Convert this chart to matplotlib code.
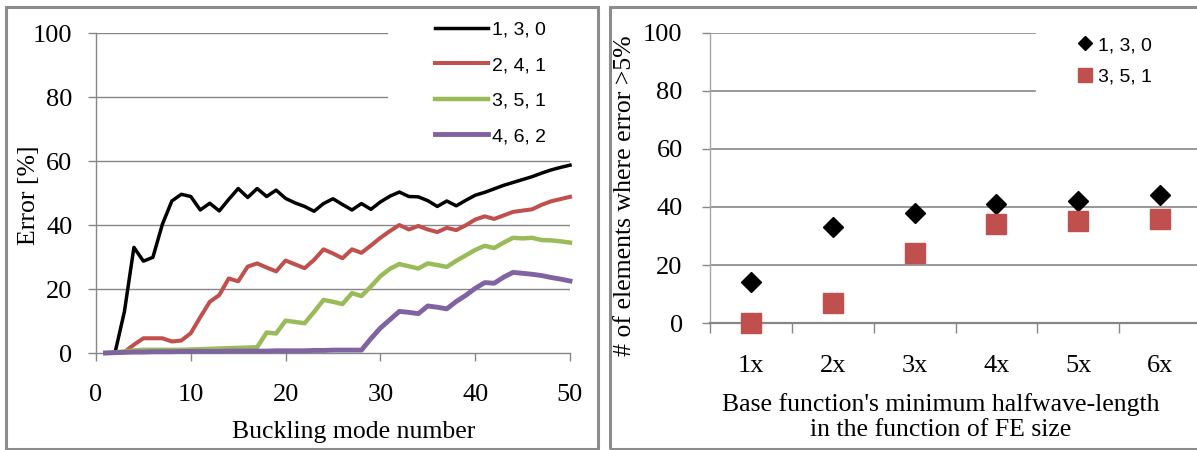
import numpy as np
import matplotlib
matplotlib.use("Agg")
import matplotlib.pyplot as plt
from matplotlib.patches import Rectangle

# ---------------- data ----------------
modes = list(range(1, 51))
s130 = [0, 0, 13, 33, 28.7, 29.9, 40.2, 47.5, 49.6, 48.9, 44.7, 46.8, 44.4, 48, 51.4, 48.6, 51.4, 48.9, 50.9, 48.3,
        46.9, 45.8, 44.3, 46.7, 48.2, 46.4, 44.7, 46.7, 44.9, 47.2, 49, 50.3, 48.9, 48.8, 47.6, 45.8, 47.5, 46, 47.7, 49.3,
        50.2, 51.3, 52.4, 53.3, 54.2, 55.1, 56.2, 57.2, 58, 58.7]
s241 = [0, 0, 0.3, 2.6, 4.6, 4.6, 4.6, 3.6, 3.9, 6.2, 11.2, 16, 18.1, 23.3, 22.4, 27, 28, 26.7, 25.5, 28.9,
        27.7, 26.5, 29.1, 32.4, 31.1, 29.6, 32.4, 31.3, 33.6, 36, 38.1, 40, 38.6, 39.7, 38.6, 37.8, 39.1, 38.4, 39.9, 41.7,
        42.7, 41.9, 43, 44.1, 44.5, 44.9, 46.3, 47.4, 48.1, 48.8]
s351 = [0, 0.2, 0.5, 0.8, 1, 1, 1, 1, 1, 1.1, 1.2, 1.3, 1.4, 1.5, 1.6, 1.7, 1.8, 6.4, 6.1, 10.1,
        9.7, 9.3, 12.8, 16.6, 16.0, 15.3, 18.7, 17.8, 20.8, 24, 26.3, 27.8, 27.1, 26.4, 28, 27.5, 26.9, 28.8, 30.5, 32.2,
        33.5, 32.8, 34.5, 36, 35.8, 36, 35.3, 35.2, 34.9, 34.5]
s462 = [0, 0.1, 0.2, 0.3, 0.3, 0.4, 0.4, 0.4, 0.5, 0.5, 0.5, 0.5, 0.5, 0.6, 0.6, 0.6, 0.6, 0.6, 0.7, 0.7,
        0.7, 0.7, 0.8, 0.8, 0.9, 0.9, 0.9, 0.9, 4.5, 7.8, 10.4, 13, 12.7, 12.3, 14.7, 14.3, 13.8, 16.1, 18, 20.2,
        22, 21.8, 23.7, 25.2, 24.9, 24.6, 24.2, 23.6, 23.1, 22.5]
line_labels = ["1, 3, 0", "2, 4, 1", "3, 5, 1", "4, 6, 2"]

categories = ["1x", "2x", "3x", "4x", "5x", "6x"]
count_130 = [14, 33, 38, 41, 42, 44]
count_351 = [0, 7, 24, 34, 35, 36]
scatter_labels = ["1, 3, 0", "3, 5, 1"]

left_xticks = [0, 10, 20, 30, 40, 50]
yticks = [0, 20, 40, 60, 80, 100]

# ---------------- style ----------------
plt.rcParams['font.family'] = ['Liberation Serif', 'DejaVu Serif']
GRAY = '#868686'
W, H = 1197, 450

fig = plt.figure(figsize=(W / 100, H / 100), dpi=100)
fig.patch.set_facecolor('white')

def axrect(x0, ytop, x1, ybot):
    return [x0 / W, 1 - ybot / H, (x1 - x0) / W, (ybot - ytop) / H]

# ---------------- left chart ----------------
ax1 = fig.add_axes(axrect(96, 33, 570, 353))
colors = ['#000000', '#C0504D', '#9BBB59', '#8064A2']
widths = [2.5, 2.9, 3.2, 3.5]
for vals, c, lw, lab in zip([s130, s241, s351, s462], colors, widths, line_labels):
    ax1.plot(modes, vals, color=c, lw=lw, label=lab, clip_on=False, zorder=3,
             solid_joinstyle='round')
ax1.set_xlim(0, 50)
ax1.set_ylim(0, 100)
ax1.set_xticks(left_xticks)
ax1.set_yticks(yticks)
for y in yticks[1:]:
    ax1.axhline(y, xmin=0, xmax=(387 - 96) / 474 if y >= 80 else 1, color=GRAY, lw=1.0, zorder=1)
for sp in ['top', 'right']:
    ax1.spines[sp].set_visible(False)
for sp in ['left', 'bottom']:
    ax1.spines[sp].set_color(GRAY)
    ax1.spines[sp].set_linewidth(1.0)
ax1.tick_params(axis='y', direction='out', length=5.5, width=1, color=GRAY, pad=11.5, labelsize=19)
ax1.tick_params(axis='x', direction='out', length=6, width=1, color=GRAY, pad=16.5, labelsize=19)
ax1.set_ylabel('Error [%]', fontsize=18.5, va='center')
ax1.yaxis.set_label_coords((29 - 96) / 474, (353 - 195) / 320)
ax1.set_xlabel('Buckling mode number', fontsize=18.5, va='center')
ax1.xaxis.set_label_coords((354 - 96) / 474, (353 - 432) / 320)
ax1.legend(loc='center left', bbox_to_anchor=(435 / W, 1 - 83 / H), bbox_transform=fig.transFigure,
           frameon=False, prop={'family': 'Liberation Sans', 'size': 14}, handlelength=2.75,
           handletextpad=0.2, labelspacing=0.92, borderpad=0, borderaxespad=0)

# ---------------- right chart ----------------
ax2 = fig.add_axes(axrect(710, 33, 1201, 323))
pos = np.arange(1, len(categories) + 1)
ax2.plot(pos, count_130, linestyle='none', marker='D', ms=9.7, color='black', label=scatter_labels[0],
         clip_on=False, zorder=4)
ax2.plot(pos, count_351, linestyle='none', marker='s', ms=14.4, color='#C0504D', label=scatter_labels[1],
         clip_on=False, zorder=4)
ax2.set_xlim(0.5, len(categories) + 0.5)
ax2.set_ylim(0, 100)
ax2.set_yticks(yticks)
ax2.set_xticks(np.arange(0.5, len(categories) + 1))
ax2.set_xticklabels([])
ax2.set_xticks(pos, minor=True)
ax2.set_xticklabels(categories, minor=True)
for y in yticks[1:]:
    ax2.axhline(y, xmin=0, xmax=(1035 - 710) / 491 if y >= 80 else 1, color=GRAY, lw=1.2, zorder=1)
for sp in ['top', 'right']:
    ax2.spines[sp].set_visible(False)
ax2.spines['left'].set_color('#a6a6a6')
ax2.spines['left'].set_linewidth(1.0)
ax2.spines['bottom'].set_color(GRAY)
ax2.spines['bottom'].set_linewidth(1.6)
ax2.tick_params(axis='y', direction='out', length=6, width=1, color=GRAY, pad=13.7, labelsize=19)
ax2.tick_params(axis='x', which='major', direction='out', length=7, width=1, color=GRAY)
ax2.tick_params(axis='x', which='minor', length=0, pad=23, labelsize=19)
ax2.set_ylabel('# of elements where error >5%', fontsize=18.5, va='center')
ax2.yaxis.set_label_coords((625 - 710) / 491, (323 - 196) / 290)
ax2.set_xlabel("Base function's minimum halfwave-length\nin the function of FE size", fontsize=18.5,
               va='center', linespacing=1.17)
ax2.xaxis.set_label_coords((941 - 710) / 491, (323 - 417) / 290)
ax2.legend(loc='center left', bbox_to_anchor=(1075 / W, 1 - 61 / H), bbox_transform=fig.transFigure,
           frameon=False, prop={'family': 'Liberation Sans', 'size': 14}, markerscale=0.7, numpoints=1,
           handlelength=1.0, handletextpad=0.2, labelspacing=0.7, borderpad=0, borderaxespad=0)

# ---------------- panel borders ----------------
fig.add_artist(Rectangle((6 / W, 1 - 448.5 / H), (598 - 6) / W, (448.5 - 6.7) / H, transform=fig.transFigure,
                         fill=False, edgecolor='#8c8c8c', lw=2.2))
fig.add_artist(Rectangle((610 / W, 1 - 448.5 / H), (1210 - 610) / W, (448.5 - 6.7) / H, transform=fig.transFigure,
                         fill=False, edgecolor='#8c8c8c', lw=2.2))

fig.savefig('out.png', dpi=100)
